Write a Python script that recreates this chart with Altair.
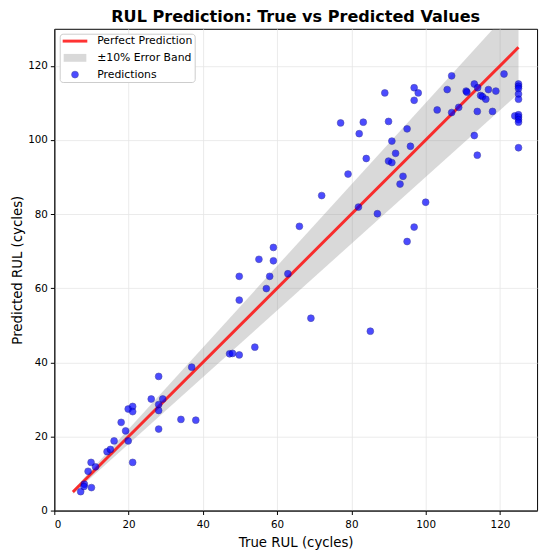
import altair as alt
import pandas as pd

true_rul = [7.1, 8.1, 8.0, 10.0, 9.1, 9.9, 11.1, 14.2, 15.1, 16.1, 18.0, 19.2, 19.9, 19.9,
            21.1, 21.1, 21.1, 26.1, 28.1, 28.1, 28.1, 28.1, 29.2, 34.1, 38.1, 37.0, 47.2,
            48.0, 49.8, 49.8, 49.8, 55.1, 59.0, 59.0, 58.0, 57.1, 62.9, 66.0, 69.1, 72.0,
            79.1, 81.9, 84.0, 87.0, 85.1, 54.0, 90.0, 90.9, 91.9, 89.0, 83.2, 82.1, 90.0,
            90.9, 95.0, 96.9, 98.0, 96.9, 95.9, 93.9, 93.1, 100.0, 96.9, 95.0, 103.1, 107.0,
            105.8, 107.0, 108.9, 110.9, 111.1, 113.1, 114.0, 114.8, 115.3, 116.2, 116.9,
            118.9, 121.1, 113.9, 118.0, 113.1, 113.9, 124.0, 77.1,
            125.0, 125.0, 125.0, 125.0, 125.0, 125.0, 125.0, 125.0, 125.0, 125.0]
pred_rul = [5.1, 7.1, 6.5, 6.2, 10.6, 13.0, 11.8, 15.9, 16.5, 18.8, 23.8, 21.5, 18.8, 27.4,
            28.1, 26.7, 13.0, 30.1, 36.2, 28.6, 27.0, 22.0, 30.1, 24.6, 24.4, 38.7, 42.3,
            42.4, 42.0, 56.8, 63.2, 67.8, 71.0, 67.4, 63.2, 59.9, 63.9, 76.7, 51.9, 85.0,
            90.8, 81.9, 95.0, 80.1, 48.4, 44.1, 94.3, 93.9, 96.4, 112.7, 104.8, 101.7, 105.0,
            99.7, 103.0, 114.1, 112.7, 110.7, 98.3, 90.2, 88.1, 83.2, 76.5, 72.6, 108.1, 117.3,
            113.6, 107.4, 108.8, 113.2, 112.9, 115.1, 114.1, 112.0, 111.7, 111.0, 113.6,
            113.2, 117.8, 107.7, 107.7, 101.2, 95.9, 106.5, 104.6,
            115.1, 114.5, 113.9, 112.4, 111.0, 106.8, 106.2, 105.5, 104.8, 97.9]

line_x = [5, 125]
line_y = [5, 125]
band_lo = [4.5, 112.5]
band_hi = [5.5, 137.5]

names = ["Perfect Prediction", "±10% Error Band", "Predictions"]

pts = pd.DataFrame({"true": true_rul, "pred": pred_rul, "series": "Predictions"})
ln = pd.DataFrame({"x": line_x, "y": line_y})
bd = pd.DataFrame({"x": line_x, "lo": band_lo, "hi": band_hi})

FONT = "DejaVu Sans"
xs = alt.Scale(domain=[0, 130], nice=False, zero=False)
ys = alt.Scale(domain=[0, 130], nice=False, zero=False)
ticks = [0, 20, 40, 60, 80, 100, 120]

xax = alt.Axis(title="True RUL (cycles)", values=ticks, grid=True)
yax = alt.Axis(title="Predicted RUL (cycles)", values=ticks, grid=True)

band = alt.Chart(bd).mark_area(color="gray", opacity=0.3, clip=True).encode(
    x=alt.X("x:Q", scale=xs, axis=xax),
    y=alt.Y("lo:Q", scale=ys, axis=yax),
    y2="hi:Q",
)

line = alt.Chart(ln).mark_line(color="#ff0000", strokeWidth=3, opacity=0.8, clip=True).encode(
    x=alt.X("x:Q", scale=xs),
    y=alt.Y("y:Q", scale=ys),
)


def leg():
    return alt.Legend(
        title=None,
        orient="none",
        legendX=5.5,
        legendY=5,
        padding=2,
        fillColor="white",
        strokeColor="#cccccc",
        cornerRadius=3,
        labelFont=FONT,
        labelFontSize=11,
        labelColor="black",
        symbolOffset=8,
        labelOffset=17,
        rowPadding=5,
    )


shapes = ["M-2.5,-0.3H2.5V0.3H-2.5Z", "M-2.3,-0.8H2.3V0.8H-2.3Z", "circle"]

points = alt.Chart(pts).mark_point(filled=True).encode(
    x=alt.X("true:Q", scale=xs),
    y=alt.Y("pred:Q", scale=ys),
    color=alt.Color("series:N", scale=alt.Scale(domain=names, range=["#ff0000", "#808080", "#0000ff"]),
                    legend=leg()),
    shape=alt.Shape("series:N", scale=alt.Scale(domain=names, range=shapes), legend=leg()),
    opacity=alt.Opacity("series:N", scale=alt.Scale(type="ordinal", domain=names, range=[0.8, 0.3, 0.7]),
                        legend=leg()),
    size=alt.Size("series:N", scale=alt.Scale(type="ordinal", domain=names, range=[100, 100, 48]),
                  legend=leg()),
    stroke=alt.Stroke("series:N", scale=alt.Scale(domain=names, range=["#ff0000", "#808080", "#00008b"]),
                      legend=leg()),
    strokeWidth=alt.StrokeWidth("series:N", scale=alt.Scale(type="ordinal", domain=names, range=[0, 0, 0.6]),
                                legend=leg()),
)

chart = alt.layer(band, line, points).properties(
    width=490,
    height=489,
    title=alt.TitleParams("RUL Prediction: True vs Predicted Values", font=FONT, fontSize=16.3,
                          fontWeight="bold", anchor="middle", offset=3.5, color="black"),
    autosize=alt.AutoSizeParams(type="none"),
    padding={"left": 47, "top": 17, "right": 5, "bottom": 42},
).configure_view(stroke="black", strokeWidth=1).configure_axis(
    labelFont=FONT, labelFontSize=10.5, labelColor="black", titleFont=FONT, titleFontSize=13.5,
    titleFontWeight="normal", titleColor="black", domainColor="black", tickColor="black",
    tickSize=4, labelPadding=3, gridColor="#e6e6e6", gridWidth=0.8,
).configure_axisX(titlePadding=6, labelPadding=5).configure_axisY(titlePadding=3)

chart.save("out.html", embed_options={"renderer": "svg", "actions": False})
